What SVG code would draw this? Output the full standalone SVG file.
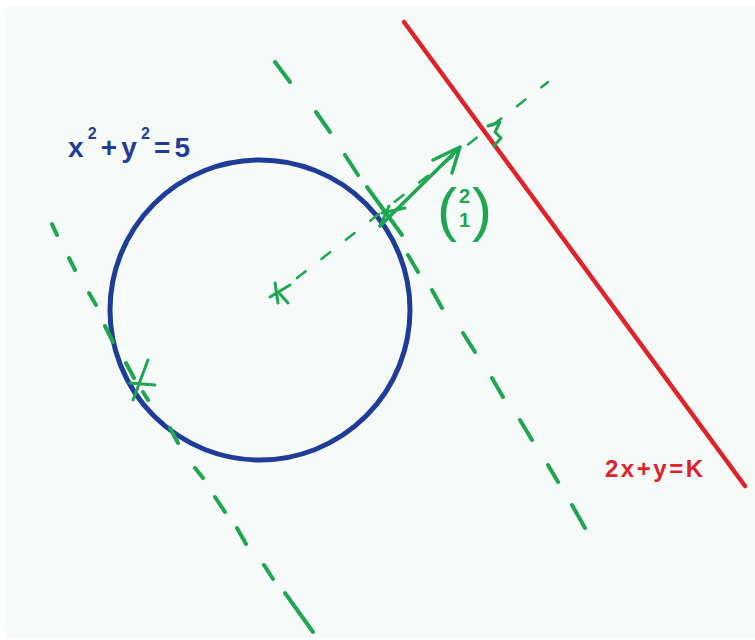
<svg xmlns="http://www.w3.org/2000/svg" width="755" height="640" viewBox="0 0 755 640">
<style>
.g{stroke:#1ea650;fill:none;stroke-linecap:round;stroke-linejoin:round}
.d{stroke-width:4}
.t{font-family:"Liberation Sans",Arial,sans-serif}
</style>
<rect x="0" y="0" width="755" height="640" fill="#ffffff"/>
<rect x="7" y="7" width="748" height="631" fill="#f6fbfa"/>
<g id="circle">
<circle cx="260" cy="310" r="150" fill="none" stroke="#1f3c98" stroke-width="5"/>
</g>
<g id="tangent-line">
<line x1="404" y1="22" x2="745" y2="486" stroke="#e0232a" stroke-width="4.5" stroke-linecap="round"/>
</g>
<g id="connectors">
<path class="g d" d="M52,224L57,235 M69,258L75,270 M89,293L96,305 M105,326L113,342 M126,363L134,378 M143,392L148,400 M170,428L178,443 M195,468L203,478 M215,497L225,512 M237,528L246,544 M264,565L273,579 M285,593L313,632"/>
<path class="g d" d="M275,62L290,82 M316,112L330,132 M345,155L358,175 M367,187L402,235 M408,255L418,272 M432,290L442,308 M463,333L475,352 M492,378L503,397 M520,420L532,440 M548,465L558,482 M572,505L585,528"/>
<line class="g" x1="297" y1="278" x2="548" y2="82" stroke-width="2.5" stroke-dasharray="11 20"/>
<path class="g" stroke-width="3.5" d="M380,226L460,147 M433,160L460,147L452,173"/>
<polyline class="g" stroke-width="3" points="488,126 500,122 495,132 501,138 494,146"/>
</g>
<g id="points" class="g" stroke-width="3">
<path d="M275,283L278,303 M270,297L290,285 M280,294L288,303"/>
<path d="M148,360L133,400 M130,383L155,385"/>
<path d="M382,213L405,208 M380,226L389,206"/>
</g>
<g id="circle-label">
<text class="t" x="68" y="157" font-size="28" font-weight="bold" fill="#1f3c98" textLength="122" lengthAdjust="spacing">x<tspan font-size="16" dy="-18">2</tspan><tspan dy="18">+y</tspan><tspan font-size="16" dy="-18">2</tspan><tspan dy="18">=5</tspan></text>
</g>
<g id="line-label">
<text class="t" x="605" y="477" font-size="24" font-weight="bold" fill="#e0232a" textLength="98" lengthAdjust="spacing">2x+y=K</text>
</g>
<g id="normal-label" fill="#1ea650">
<text class="t" x="437" y="230" font-size="60">(</text>
<text class="t" x="472" y="230" font-size="60">)</text>
<text class="t" x="459" y="203" font-size="20" font-weight="bold">2</text>
<text class="t" x="459" y="227" font-size="20" font-weight="bold">1</text>
</g>
</svg>
